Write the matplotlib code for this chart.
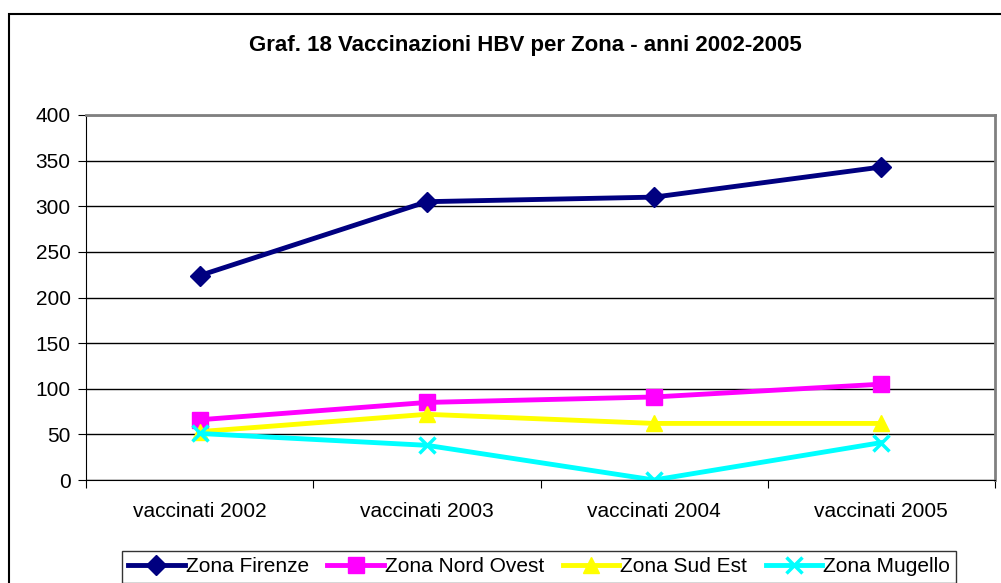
import matplotlib.pyplot as plt
from matplotlib.patches import Rectangle

plt.rcParams['font.family'] = ['Liberation Sans', 'DejaVu Sans']

categories = ["vaccinati 2002", "vaccinati 2003", "vaccinati 2004", "vaccinati 2005"]
firenze = [224, 305, 310, 343]
nord_ovest = [66, 85, 91, 105]
sud_est = [53, 72, 62, 62]
mugello = [51, 38, 0, 41]
y_ticks = [0, 50, 100, 150, 200, 250, 300, 350, 400]

fig = plt.figure(figsize=(10.01, 5.83), dpi=100)
fig.patches.append(Rectangle((9 / 1001, -0.1), 1.2, 1 - 14 / 583 + 0.1,
                             transform=fig.transFigure, fill=False,
                             edgecolor="black", linewidth=1.5))
ax = fig.add_axes([86 / 1001, 1 - 480 / 583, (995 - 86) / 1001, (480 - 115) / 583])

x = list(range(len(categories)))
ax.plot(x, firenze, color="#000080", lw=3.5, marker="D", ms=10, label="Zona Firenze")
ax.plot(x, nord_ovest, color="#FF00FF", lw=3.5, marker="s", ms=11, label="Zona Nord Ovest")
ax.plot(x, sud_est, color="#FFFF00", lw=3.5, marker="^", ms=12, label="Zona Sud Est")
ax.plot(x, mugello, color="#00FFFF", lw=3.5, marker="x", ms=12, mew=2.5, label="Zona Mugello")

ax.set_xlim(-0.5, 3.5)
ax.set_ylim(0, 400)
ax.set_yticks(y_ticks)
ax.set_xticks([i + 0.5 for i in range(-1, 4)], minor=False)
ax.set_xticklabels([])
ax.set_xticks(x, minor=True)
ax.set_xticklabels(categories, minor=True, fontsize=15)
ax.tick_params(axis="x", which="minor", length=0, pad=16)
ax.tick_params(axis="x", which="major", length=6, direction="out")
ax.tick_params(axis="y", labelsize=15, length=6, direction="out", pad=5)
ax.grid(axis="y", color="black", linewidth=1)
ax.set_axisbelow(True)
ax.spines["top"].set_color("#808080")
ax.spines["right"].set_color("#808080")
ax.spines["top"].set_linewidth(2)
ax.spines["right"].set_linewidth(2)

fig.text(0.525, 1 - 45 / 583, "Graf. 18 Vaccinazioni HBV per Zona - anni 2002-2005",
         ha="center", va="center", fontsize=16, fontweight="bold")

leg = fig.legend(loc="upper left", bbox_to_anchor=(122 / 1001, 1 - 551 / 583), ncol=4,
                 fontsize=15, frameon=True, fancybox=False, edgecolor="black",
                 handlelength=2.7, handletextpad=0.05, columnspacing=0.9,
                 borderpad=0.3, borderaxespad=0)
leg.get_frame().set_linewidth(1)

fig.savefig("out.png", dpi=100)
